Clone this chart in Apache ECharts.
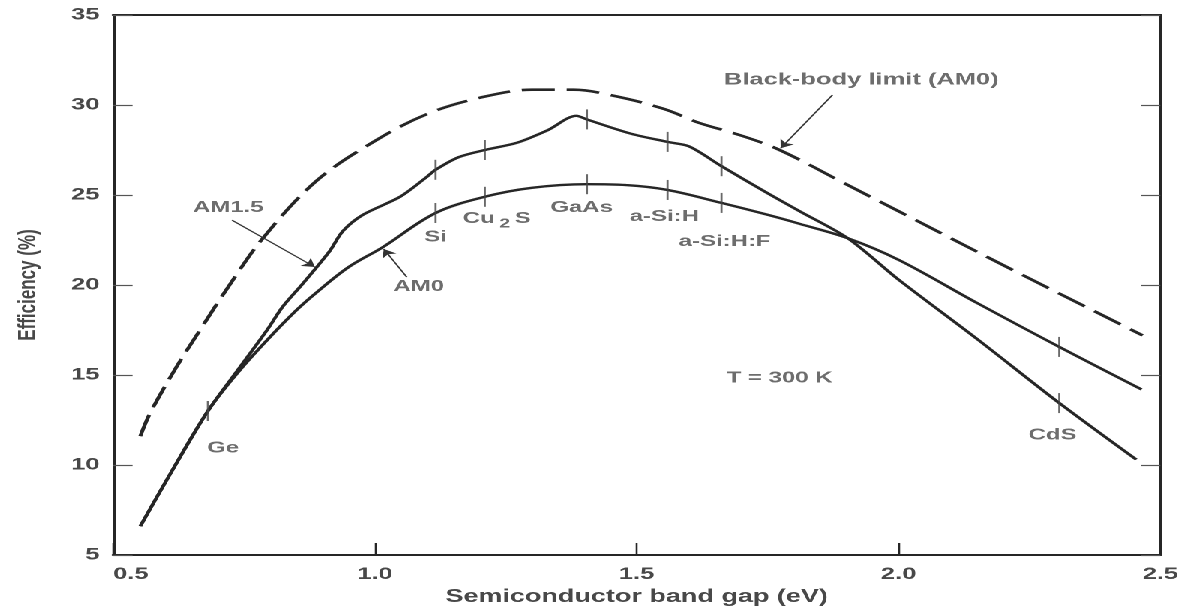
<!DOCTYPE html>
<html>
<head>
<meta charset="utf-8">
<script src="https://cdn.jsdelivr.net/npm/echarts@6/dist/echarts.min.js"></script>
<style>
  html, body { margin: 0; padding: 0; background: #fff; overflow: hidden; }
  /* the figure is set in a wide, horizontally stretched face: draw at 1/1.5 width and stretch */
  #chart { width: 790.6667px; height: 611px; transform: scaleX(1.5); transform-origin: 0 0; }
</style>
</head>
<body>
<div id="chart"></div>
<script>
// Axis ranges (band gap in eV, efficiency in %)
const bandGapRange = [0.5, 2.5];
const bandGapStep = 0.5;
const efficiencyRange = [5, 35];
const efficiencyStep = 5;

// Black-body limit (AM0), dashed
const blackBodyLimit = [
  [0.552, 11.6], [0.571, 12.9], [0.62, 15.4], [0.666, 17.5], [0.72, 19.9],
  [0.786, 22.6], [0.889, 25.8], [1.0, 28.0], [1.1, 29.5], [1.2, 30.4],
  [1.3, 30.85], [1.38, 30.85], [1.45, 30.55], [1.55, 29.8], [1.62, 29.0],
  [1.70, 28.3], [1.773, 27.5], [1.9, 25.6], [2.0, 24.1], [2.2, 21.1], [2.466, 17.2]
];

// AM1.5 efficiency
const am15 = [
  [0.552, 6.6], [0.609, 9.5], [0.681, 13.0], [0.74, 15.35], [0.794, 17.5],
  [0.824, 18.8], [0.86, 20.0], [0.889, 21.0], [0.914, 21.9], [0.939, 23.0],
  [0.977, 23.9], [1.048, 24.9], [1.099, 26.0], [1.116, 26.4], [1.16, 27.1],
  [1.21, 27.5], [1.271, 27.9], [1.33, 28.6], [1.385, 29.4], [1.405, 29.2],
  [1.49, 28.4], [1.559, 27.95], [1.60, 27.7], [1.662, 26.6], [1.75, 25.1],
  [1.811, 24.1], [1.903, 22.6], [2.0, 20.3], [2.15, 17.0], [2.307, 13.44], [2.454, 10.3]
];

// AM0 efficiency
const am0 = [
  [0.552, 6.6], [0.609, 9.5], [0.681, 13.0], [0.74, 15.2], [0.794, 16.94],
  [0.85, 18.6], [0.889, 19.6], [0.95, 21.0], [1.015, 22.1], [1.116, 24.0],
  [1.21, 24.9], [1.30, 25.4], [1.405, 25.6], [1.48, 25.55], [1.559, 25.28],
  [1.662, 24.56], [1.75, 23.9], [1.811, 23.4], [1.903, 22.6], [2.0, 21.4],
  [2.15, 19.0], [2.307, 16.56], [2.464, 14.2]
];

// Semiconductors marked on the curves
const materials = ['Ge', 'Si', 'Cu2S', 'GaAs', 'a-Si:H', 'a-Si:H:F', 'CdS'];
const materialGap = [0.681, 1.116, 1.21, 1.405, 1.559, 1.662, 2.307];
const am15AtMaterial = [13.0, 26.4, 27.5, 29.2, 27.95, 26.6, 13.44];
const am0AtMaterial = [null, 24.0, 24.9, 25.6, 25.28, 24.56, 16.56];

// ---- annotation placement (data coordinates) ----
const materialLabelAt = [
  [0.71, 10.94], [1.116, 22.67], [1.233, 23.7], [1.395, 24.3],
  [1.553, 23.8], [1.668, 22.4], [2.294, 11.67]
];
const notes = [
  { text: 'AM1.5', at: [0.72, 24.3] },
  { text: 'AM0', at: [1.084, 19.9] },
  { text: 'T = 300 K', at: [1.773, 14.83] },
  { text: 'Black-body limit (AM0)', at: [1.929, 31.4], size: 17 }
];
const arrows = [
  [[0.727, 23.6], [0.885, 21.0]],
  [[1.061, 20.44], [1.017, 22.0]],
  [[1.874, 30.56], [1.775, 27.6]]
];

const ink = '#262626';
const textInk = '#484848';
const font = 'Liberation Sans, Arial, sans-serif';

const tickMarks = [];
materials.forEach((m, i) => {
  tickMarks.push([materialGap[i], am15AtMaterial[i]]);
  if (am0AtMaterial[i] != null) tickMarks.push([materialGap[i], am0AtMaterial[i]]);
});

const labelData = materials.map((m, i) => ({
  value: materialLabelAt[i],
  name: m
}));
notes.forEach(n => labelData.push({ value: n.at, name: n.text, label: { fontSize: n.size || 16 } }));

const chart = echarts.init(document.getElementById('chart'), null, { renderer: 'canvas', devicePixelRatio: 2 });

const axisLine = { show: true, lineStyle: { color: ink, width: 2 } };

chart.setOption({
  backgroundColor: '#fff',
  animation: false,
  grid: { left: 75.33, right: 17.33, top: 15, bottom: 56, containLabel: false },
  xAxis: [{
    type: 'value',
    min: bandGapRange[0], max: bandGapRange[1], interval: bandGapStep,
    axisLine: axisLine,
    axisTick: { show: true, inside: true, length: 12, lineStyle: { color: ink, width: 1.3 } },
    splitLine: { show: false },
    axisLabel: {
      color: textInk, fontSize: 17, fontWeight: 'bold', fontFamily: font, margin: 11,
      alignMinLabel: 'left',
      formatter: v => v.toFixed(1)
    },
    name: 'Semiconductor band gap (eV)',
    nameLocation: 'middle',
    nameGap: 33,
    nameTextStyle: { color: textInk, fontSize: 18, fontWeight: 'bold', fontFamily: font }
  }, {
    type: 'value', position: 'top',
    min: bandGapRange[0], max: bandGapRange[1], interval: bandGapStep,
    axisLine: axisLine, axisTick: { show: false }, axisLabel: { show: false },
    splitLine: { show: false }
  }],
  yAxis: [{
    type: 'value',
    min: efficiencyRange[0], max: efficiencyRange[1], interval: efficiencyStep,
    axisLine: axisLine,
    axisTick: { show: true, inside: true, length: 13, lineStyle: { color: '#555', width: 1.2 } },
    splitLine: { show: false },
    axisLabel: { color: textInk, fontSize: 17, fontWeight: 'bold', fontFamily: font, margin: 9 },
    name: 'Efficiency (%)',
    nameLocation: 'middle',
    nameGap: 48,
    nameTextStyle: { color: textInk, fontSize: 17, fontWeight: 'bold', fontFamily: font }
  }, {
    type: 'value', position: 'right',
    min: efficiencyRange[0], max: efficiencyRange[1], interval: efficiencyStep,
    axisLine: axisLine,
    axisTick: { show: true, inside: true, length: 13, lineStyle: { color: '#555', width: 1.2 } },
    axisLabel: { show: false },
    splitLine: { show: false }
  }],
  series: [
    {
      name: 'Black-body limit (AM0)',
      type: 'line',
      data: blackBodyLimit,
      smooth: 0.35,
      showSymbol: false,
      lineStyle: { color: ink, width: 2.6, type: [22, 8] },
      z: 3
    },
    {
      name: 'AM1.5',
      type: 'line',
      data: am15,
      smooth: 0.3,
      showSymbol: false,
      lineStyle: { color: ink, width: 2.4 },
      z: 3
    },
    {
      name: 'AM0',
      type: 'line',
      data: am0,
      smooth: 0.35,
      showSymbol: false,
      lineStyle: { color: ink, width: 2.4 },
      z: 3
    },
    {
      name: 'material ticks',
      type: 'scatter',
      data: tickMarks,
      symbol: 'rect',
      symbolSize: [1.4, 20],
      itemStyle: { color: '#444' },
      silent: true,
      z: 4
    },
    {
      name: 'arrows',
      type: 'lines',
      coordinateSystem: 'cartesian2d',
      symbol: ['none', 'arrow'],
      symbolSize: 8,
      lineStyle: { color: '#333', width: 1.1, opacity: 1 },
      data: arrows.map(a => ({ coords: a })),
      silent: true,
      z: 5
    },
    {
      name: 'labels',
      type: 'scatter',
      data: labelData,
      symbolSize: 0,
      silent: true,
      label: {
        show: true,
        position: [0, 0],
        align: 'center',
        verticalAlign: 'middle',
        color: textInk,
        fontSize: 16,
        fontWeight: 'bold',
        fontFamily: font,
        formatter: p => p.name === 'Cu2S' ? '{t|Cu}{s|2}{t|S}' : p.name,
        rich: {
          t: { fontSize: 16, fontWeight: 'bold', fontFamily: font, color: textInk },
          s: { fontSize: 13, fontWeight: 'bold', fontFamily: font, color: textInk, padding: [11, 3, 0, 3] }
        }
      },
      z: 6
    }
  ]
});
</script>
</body>
</html>
